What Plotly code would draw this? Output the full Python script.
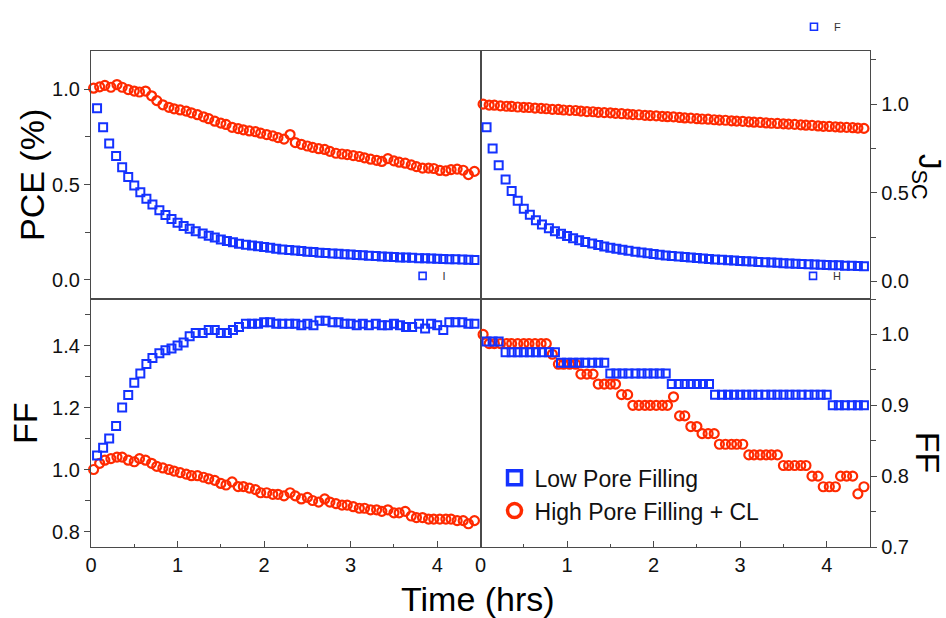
import plotly.graph_objects as go
from plotly.subplots import make_subplots

BLUE = "#1432ff"
RED = "#ff2a00"
AXIS = "#4a4a4a"
FONT = "Liberation Sans, Arial, sans-serif"

# sampling times (hrs)
t_low = [0.07, 0.14, 0.21, 0.29, 0.36, 0.43, 0.50, 0.57, 0.64, 0.71, 0.79, 0.86, 0.93,
         1.00, 1.07, 1.14, 1.21, 1.29, 1.36, 1.43, 1.50, 1.57, 1.64, 1.71, 1.79, 1.86,
         1.93, 2.00, 2.07, 2.14, 2.21, 2.29, 2.36, 2.43, 2.50, 2.57, 2.64, 2.71, 2.79,
         2.86, 2.93, 3.00, 3.07, 3.14, 3.21, 3.29, 3.36, 3.43, 3.50, 3.57, 3.64, 3.71,
         3.79, 3.86, 3.93, 4.00, 4.07, 4.14, 4.21, 4.29, 4.36, 4.43]
t_high = [0.03, 0.10, 0.16, 0.23, 0.30, 0.36, 0.43, 0.50, 0.56, 0.63, 0.70, 0.76, 0.83,
          0.90, 0.96, 1.03, 1.10, 1.16, 1.23, 1.30, 1.36, 1.43, 1.50, 1.56, 1.63, 1.70,
          1.76, 1.83, 1.90, 1.96, 2.03, 2.10, 2.16, 2.23, 2.30, 2.36, 2.43, 2.50, 2.56,
          2.63, 2.70, 2.76, 2.83, 2.90, 2.96, 3.03, 3.10, 3.16, 3.23, 3.30, 3.36, 3.43,
          3.50, 3.56, 3.63, 3.70, 3.76, 3.83, 3.90, 3.96, 4.03, 4.10, 4.16, 4.23, 4.30,
          4.36, 4.43]

# normalised PCE
pce_low = [0.90, 0.80, 0.715, 0.65, 0.59, 0.54, 0.495, 0.46, 0.425, 0.395, 0.365, 0.34,
           0.32, 0.30, 0.283, 0.268, 0.255, 0.243, 0.232, 0.222, 0.212, 0.204, 0.197,
           0.190, 0.185, 0.180, 0.176, 0.172, 0.168, 0.164, 0.160, 0.157, 0.154, 0.151,
           0.148, 0.146, 0.143, 0.141, 0.139, 0.137, 0.135, 0.133, 0.131, 0.129, 0.127,
           0.125, 0.123, 0.121, 0.120, 0.118, 0.117, 0.116, 0.114, 0.113, 0.112, 0.111,
           0.110, 0.109, 0.108, 0.107, 0.106, 0.105]
pce_high = [1.005, 1.012, 1.02, 1.01, 1.024, 1.01, 0.998, 0.99, 0.985, 0.99, 0.965, 0.94,
            0.918, 0.905, 0.897, 0.891, 0.885, 0.876, 0.866, 0.855, 0.845, 0.832, 0.822,
            0.815, 0.80, 0.793, 0.787, 0.781, 0.777, 0.769, 0.762, 0.755, 0.746, 0.738,
            0.762, 0.72, 0.711, 0.702, 0.695, 0.688, 0.684, 0.674, 0.664, 0.66, 0.657,
            0.652, 0.647, 0.64, 0.633, 0.627, 0.621, 0.636, 0.624, 0.617, 0.612, 0.603,
            0.594, 0.586, 0.586, 0.584, 0.574, 0.572, 0.578, 0.581, 0.575, 0.552, 0.569]

# normalised Jsc
jsc_low = [0.87, 0.75, 0.655, 0.575, 0.51, 0.455, 0.41, 0.375, 0.345, 0.32, 0.30, 0.283,
           0.268, 0.255, 0.243, 0.232, 0.222, 0.213, 0.205, 0.197, 0.19, 0.184, 0.178,
           0.172, 0.167, 0.162, 0.158, 0.154, 0.150, 0.146, 0.143, 0.140, 0.137, 0.134,
           0.131, 0.128, 0.126, 0.123, 0.121, 0.119, 0.117, 0.115, 0.113, 0.111, 0.109,
           0.107, 0.106, 0.104, 0.102, 0.100, 0.099, 0.097, 0.096, 0.095, 0.093, 0.092,
           0.091, 0.090, 0.088, 0.087, 0.086, 0.085]
jsc_high = [1.0, 0.995, 0.994, 0.99, 0.988, 0.987, 0.984, 0.982, 0.981, 0.978, 0.976,
            0.974, 0.971, 0.97, 0.967, 0.965, 0.964, 0.961, 0.958, 0.957, 0.954, 0.952,
            0.951, 0.948, 0.946, 0.944, 0.941, 0.940, 0.937, 0.935, 0.934, 0.931, 0.929,
            0.928, 0.925, 0.922, 0.921, 0.918, 0.916, 0.915, 0.912, 0.91, 0.909, 0.906,
            0.904, 0.903, 0.9, 0.898, 0.897, 0.894, 0.892, 0.891, 0.889, 0.887, 0.886,
            0.883, 0.881, 0.88, 0.877, 0.875, 0.874, 0.872, 0.870, 0.869, 0.867, 0.865,
            0.863]

# normalised FF (left panel)
ff_low = [1.045, 1.07, 1.10, 1.14, 1.20, 1.24, 1.28, 1.31, 1.34, 1.36, 1.375, 1.385,
          1.39, 1.40, 1.41, 1.43, 1.44, 1.44, 1.45, 1.45, 1.44, 1.44, 1.45, 1.46, 1.47,
          1.47, 1.47, 1.475, 1.475, 1.47, 1.47, 1.47, 1.47, 1.465, 1.47, 1.465, 1.48,
          1.48, 1.475, 1.475, 1.47, 1.47, 1.465, 1.47, 1.465, 1.47, 1.465, 1.465, 1.47,
          1.465, 1.46, 1.46, 1.47, 1.455, 1.47, 1.465, 1.45, 1.475, 1.475, 1.475, 1.47,
          1.47]
ff_high = [1.00, 1.02, 1.03, 1.035, 1.04, 1.04, 1.03, 1.025, 1.035, 1.03, 1.02, 1.01,
           1.005, 1.00, 0.995, 0.99, 0.985, 0.98, 0.98, 0.975, 0.97, 0.965, 0.955, 0.95,
           0.96, 0.945, 0.945, 0.94, 0.935, 0.925, 0.925, 0.92, 0.92, 0.915, 0.925, 0.915,
           0.905, 0.91, 0.90, 0.895, 0.905, 0.895, 0.89, 0.885, 0.885, 0.88, 0.875, 0.875,
           0.87, 0.87, 0.865, 0.87, 0.86, 0.86, 0.865, 0.85, 0.845, 0.845, 0.84, 0.84,
           0.84, 0.84, 0.84, 0.835, 0.835, 0.825, 0.835]

# normalised FF (right panel)
ffr_low = ([0.99] * 3 + [0.975] * 9 + [0.96] * 8 + [0.945] * 10 + [0.93] * 7
           + [0.915] * 19 + [0.90] * 6)
ffr_high = ([1.0] + [0.987] * 11 + [0.972] + [0.958] * 4 + [0.944] * 3 + [0.93] * 4
            + [0.915] * 2 + [0.90] * 7 + [0.912] + [0.885] * 2 + [0.87] * 2
            + [0.86] * 3 + [0.845] * 5 + [0.83] * 6 + [0.815] * 3 + [0.815] * 2
            + [0.80] * 2 + [0.785] * 3 + [0.80] * 3 + [0.775] + [0.785])

labels = ["Low Pore Filling", "High Pore Filling + CL"]

fig = make_subplots(rows=2, cols=2, horizontal_spacing=0, vertical_spacing=0)

low_marker = dict(symbol="square-open", size=8, color=BLUE, line=dict(width=2, color=BLUE))
high_marker = dict(symbol="circle-open", size=9, color=RED, line=dict(width=2.2, color=RED))

panels = [
    (1, 1, pce_low, pce_high),
    (1, 2, jsc_low, jsc_high),
    (2, 1, ff_low, ff_high),
    (2, 2, ffr_low, ffr_high),
]
for r, c, ylow, yhigh in panels:
    fig.add_trace(go.Scatter(x=t_high, y=yhigh, mode="markers", marker=high_marker,
                             showlegend=False, cliponaxis=False, name=labels[1]),
                  row=r, col=c)
    fig.add_trace(go.Scatter(x=t_low, y=ylow, mode="markers", marker=low_marker,
                             showlegend=False, cliponaxis=False, name=labels[0]),
                  row=r, col=c)

# legend entries
fig.add_trace(go.Scatter(x=[None], y=[None], mode="markers", name=labels[0],
                         marker=dict(symbol="square-open", size=14, color=BLUE,
                                     line=dict(width=3.5, color=BLUE))), row=2, col=2)
fig.add_trace(go.Scatter(x=[None], y=[None], mode="markers", name=labels[1],
                         marker=dict(symbol="circle-open", size=14, color=RED,
                                     line=dict(width=3.5, color=RED))), row=2, col=2)

# small stray key entries
small = dict(symbol="square-open", size=7, color=BLUE, line=dict(width=1.6, color=BLUE))
for name, lg in [("F", "legend2"), ("I", "legend3"), ("H", "legend4")]:
    fig.add_trace(go.Scatter(x=[None], y=[None], mode="markers", name=name, marker=small,
                             legend=lg), row=1, col=1)

tickfont = dict(family=FONT, size=20, color="#111")
common_x = dict(range=[0, 4.5], showline=True, mirror=True, linecolor=AXIS, linewidth=1.3,
                showgrid=False, zeroline=False, dtick=1, tick0=0)
for ax in ["xaxis", "xaxis2"]:
    fig.layout[ax].update(**common_x, ticks="", showticklabels=False)
for ax in ["xaxis3", "xaxis4"]:
    fig.layout[ax].update(**common_x, ticks="inside", ticklen=6, tickcolor=AXIS,
                          tickwidth=1.2, tickfont=tickfont,
                          minor=dict(dtick=0.5, ticks="inside", ticklen=3,
                                     tickcolor=AXIS, tickwidth=1.2))

common_y = dict(showline=True, mirror=True, linecolor=AXIS, linewidth=1.3, showgrid=False,
                zeroline=False, ticks="outside", ticklen=6, tickcolor=AXIS, tickwidth=1.2,
                tickfont=tickfont, tickformat=".1f")
fig.layout.yaxis.update(**common_y, range=[-0.1, 1.2], dtick=0.5, tick0=0,
                        minor=dict(dtick=0.25, ticks="outside", ticklen=5, tickcolor=AXIS))
fig.layout.yaxis2.update(**common_y, side="right", range=[-0.1, 1.3], dtick=0.5, tick0=0,
                         minor=dict(dtick=0.25, ticks="outside", ticklen=5, tickcolor=AXIS))
fig.layout.yaxis3.update(**common_y, range=[0.75, 1.55], dtick=0.2, tick0=0.8,
                         minor=dict(dtick=0.1, ticks="outside", ticklen=5, tickcolor=AXIS))
fig.layout.yaxis4.update(**common_y, side="right", range=[0.7, 1.05], dtick=0.1, tick0=0.7,
                         minor=dict(dtick=0.05, ticks="outside", ticklen=5, tickcolor=AXIS))

title_font = dict(family=FONT, size=34, color="#000")
annotations = [
    dict(text="PCE (%)", x=-0.0757, y=0.75, textangle=-90, font=title_font),
    dict(text="FF", x=-0.0847, y=0.25, textangle=-90, font=title_font),
    dict(text="Time (hrs)", x=0.497, y=-0.105, textangle=0, font=title_font),
    dict(text="FF", x=1.0745, y=0.19, textangle=90, font=title_font),
    dict(text="J<sub>SC</sub>", x=1.0725, y=0.745, textangle=90,
         font=dict(family=FONT, size=31, color="#000")),
]
for a in annotations:
    fig.add_annotation(xref="paper", yref="paper", xanchor="center", yanchor="middle",
                       showarrow=False, **a)

small_font = dict(family=FONT, size=11, color="#333")
fig.update_layout(
    width=946, height=618,
    margin=dict(l=91, r=76, t=44, b=71),
    plot_bgcolor="white", paper_bgcolor="white",
    font=dict(family=FONT),
    legend=dict(x=0.518, y=0.183, xanchor="left", yanchor="top", bgcolor="rgba(0,0,0,0)",
                font=dict(family=FONT, size=23, color="#111"), tracegroupgap=0),
    legend2=dict(x=0.9024, y=1.049, xanchor="left", yanchor="middle",
                 bgcolor="rgba(0,0,0,0)", font=small_font),
    legend3=dict(x=0.400, y=0.5467, xanchor="left", yanchor="middle",
                 bgcolor="rgba(0,0,0,0)", font=small_font),
    legend4=dict(x=0.9012, y=0.5467, xanchor="left", yanchor="middle",
                 bgcolor="rgba(0,0,0,0)", font=small_font),
)

fig.write_html("out.html")
